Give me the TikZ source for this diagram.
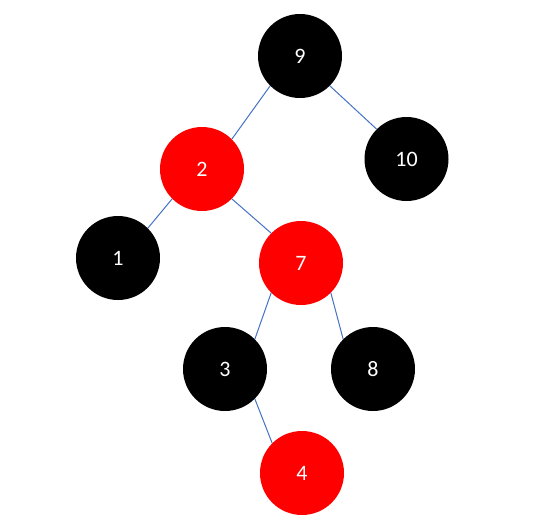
\documentclass[tikz,border=0pt]{standalone}
\usepackage{fontspec}
\setmainfont{Carlito}
\definecolor{edgeblue}{HTML}{4472C4}
\definecolor{rbred}{HTML}{FF0000}
\begin{document}
\begin{tikzpicture}[x=1pt,y=-1pt,
  rbnode/.style={circle,minimum size=84pt,inner sep=0pt,text=white,font=\fontsize{22}{26}\selectfont},
  blk/.style={rbnode,fill=black},
  rd/.style={rbnode,fill=rbred},
  edge/.style={draw=edgeblue,line width=1pt}]
\useasboundingbox (0,0) rectangle (552,525);
\node[blk] (n9) at (300,56) {9};
\node[rd] (n2) at (202,169) {2};
\node[blk] (n10) at (406.5,159) {10};
\node[blk] (n1) at (118,258) {1};
\node[rd] (n7) at (301,263) {7};
\node[blk] (n3) at (225,369) {3};
\node[blk] (n8) at (373,369) {8};
\node[rd] (n4) at (302,473) {4};
\draw[edge] (n9.south west) -- (n2.north east);
\draw[edge] (n9.south east) -- (n10.north west);
\draw[edge] (n2.south west) -- (n1.north east);
\draw[edge] (n2.south east) -- (n7.north west);
\draw[edge] (n7.south west) -- (n3.north east);
\draw[edge] (n7.south east) -- (n8.north west);
\draw[edge] (n3.south east) -- (n4.north west);
\end{tikzpicture}
\end{document}
